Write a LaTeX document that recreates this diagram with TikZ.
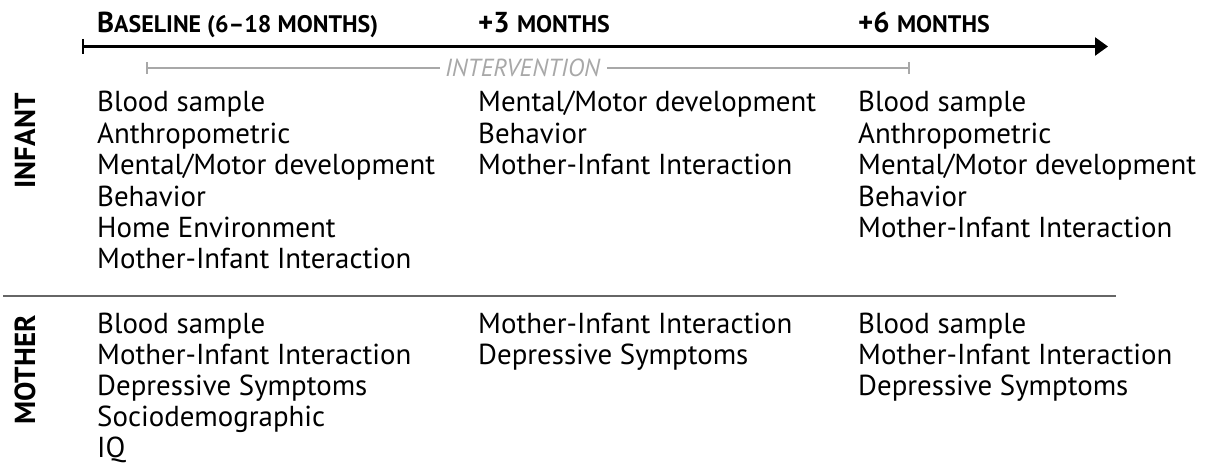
\documentclass[tikz,border=0pt]{standalone}
\usepackage{fontspec}
\setmainfont{PT Sans}
\usetikzlibrary{arrows.meta}
\definecolor{ivgray}{HTML}{A8A8A8}
\definecolor{divgray}{HTML}{666666}
\newlength\mmw
\newlength\hw
\newlength\lw
\newlength\iw
\begin{document}
\settowidth\mmw{\fontsize{20pt}{24pt}\selectfont Mental/Motor development}%
\pgfmathsetmacro\bsz{20*338/\mmw}%
\settowidth\hw{\bfseries\fontsize{20pt}{24pt}\selectfont B\fontsize{16.6pt}{20pt}\selectfont ASELINE (6–18 MONTHS)}%
\pgfmathsetmacro\hsz{20*281/\hw}%
\pgfmathsetmacro\hssz{0.83*\hsz}%
\settowidth\lw{\bfseries\fontsize{20pt}{24pt}\selectfont INFANT}%
\pgfmathsetmacro\lsz{20*95/\lw}%
\settowidth\iw{\itshape\fontsize{20pt}{24pt}\selectfont INTERVENTION}%
\pgfmathsetmacro\isz{20*155/\iw}%
\def\bodyfont{\fontsize{\bsz pt}{\bsz pt}\selectfont}%
\def\sidefont{\bfseries\fontsize{\lsz pt}{\lsz pt}\selectfont}%
\def\hbig{\bfseries\fontsize{\hsz pt}{\hsz pt}\selectfont}%
\def\hsm{\fontsize{\hssz pt}{\hssz pt}\selectfont}%
\begin{tikzpicture}[x=1pt,y=-1pt,
  item/.style={anchor=base west, inner sep=0pt, font=\bodyfont},
  hdr/.style={anchor=base west, inner sep=0pt},
  side/.style={rotate=90, inner sep=0pt, font=\sidefont},
  axisline/.style={line width=2.6pt, black},
  ivline/.style={line width=1.6pt, ivgray},
  divline/.style={line width=1.8pt, divgray}]
\useasboundingbox (0,0) rectangle (1213,473);
% headers
\node[hdr] (h1) at (97,33) {\hbig B\hsm ASELINE (6–18 MONTHS)};
\node[hdr] (h2) at (478,33) {\hbig +3 \hsm MONTHS};
\node[hdr] (h3) at (858,33) {\hbig +6 \hsm MONTHS};
% axis
\coordinate (ax0) at (83,46.5);
\coordinate (ax1) at (1108,46.5);
\coordinate (axt0) at (83,39);
\coordinate (axt1) at (83,54);
\draw[axisline, -{Triangle[length=13pt,width=18pt]}] (ax0) -- (ax1);
\draw[axisline] (axt0) -- (axt1);
% intervention
\node[inner sep=0pt, text=ivgray, font=\itshape\fontsize{\isz pt}{\isz pt}\selectfont] (iv) at (522.5,68) {INTERVENTION};
\coordinate (iv0) at (147,68);
\coordinate (iv1) at (909,68);
\coordinate (iv0a) at (147,62);
\coordinate (iv0b) at (147,74);
\coordinate (iv1a) at (909,62);
\coordinate (iv1b) at (909,74);
\draw[ivline] (iv0) -- ([xshift=-5pt]iv.west);
\draw[ivline] ([xshift=7pt]iv.east) -- (iv1);
\draw[ivline] (iv0a) -- (iv0b);
\draw[ivline] (iv1a) -- (iv1b);
% side labels
\node[side] (infant) at (25,141) {INFANT};
\node[side] (mother) at (25,370) {MOTHER};
% divider
\coordinate (d0) at (3,296);
\coordinate (d1) at (1116,296);
\draw[divline] (d0) -- (d1);
% infant rows
\foreach \t [count=\i] in {Blood sample, Anthropometric, Mental/Motor development, Behavior, Home Environment, Mother-Infant Interaction}
  \node[item] (ia\i) at (97,{112+31.4*(\i-1)}) {\t};
\foreach \t [count=\i] in {Mental/Motor development, Behavior, Mother-Infant Interaction}
  \node[item] (ib\i) at (478,{112+31.4*(\i-1)}) {\t};
\foreach \t [count=\i] in {Blood sample, Anthropometric, Mental/Motor development, Behavior, Mother-Infant Interaction}
  \node[item] (ic\i) at (858,{112+31.4*(\i-1)}) {\t};
% mother rows
\foreach \t [count=\i] in {Blood sample, Mother-Infant Interaction, Depressive Symptoms, Sociodemographic, IQ}
  \node[item] (ma\i) at (97,{333+31*(\i-1)}) {\t};
\foreach \t [count=\i] in {Mother-Infant Interaction, Depressive Symptoms}
  \node[item] (mb\i) at (478,{333+31*(\i-1)}) {\t};
\foreach \t [count=\i] in {Blood sample, Mother-Infant Interaction, Depressive Symptoms}
  \node[item] (mc\i) at (858,{333+31*(\i-1)}) {\t};
\end{tikzpicture}
\end{document}
